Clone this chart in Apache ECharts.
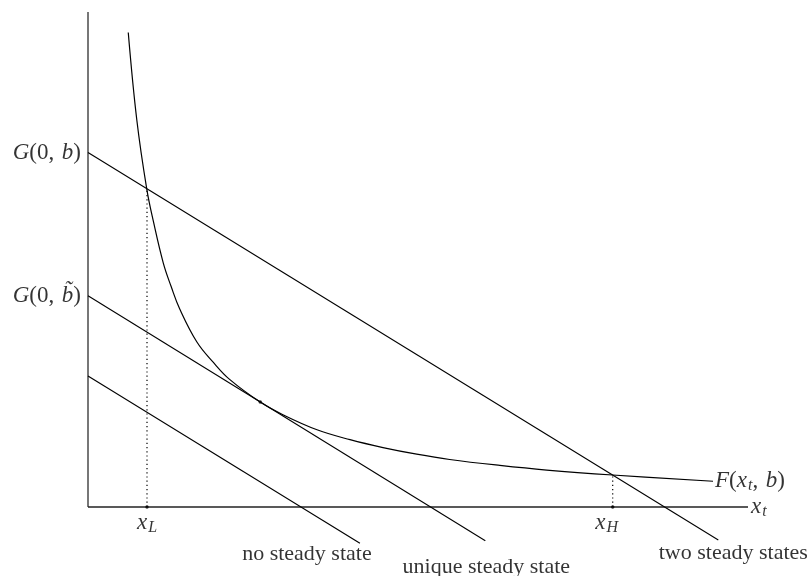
<!DOCTYPE html>
<html>
<head>
<meta charset="utf-8">
<script src="https://cdn.jsdelivr.net/npm/echarts@6/dist/echarts.min.js"></script>
<style>
  html, body { margin: 0; padding: 0; background: #fff; }
  #chart { width: 812px; height: 576px; }
</style>
</head>
<body>
<div id="chart"></div>
<script>
// Curve F(x_t, b): sampled points (x_t, F)
const curveF = [
  [6.1, 71.9], [7.4, 58.6], [8.9, 48.2], [9.9, 43.3], [11.4, 37.0],
  [12.6, 33.4], [13.9, 30.0], [16.5, 25.0], [19.0, 21.9], [21.5, 19.3],
  [26.1, 15.9], [29.6, 13.95], [34.7, 11.7], [39.7, 10.2], [44.7, 9.0],
  [49.8, 8.0], [54.8, 7.2], [62.4, 6.3], [69.5, 5.6], [79.5, 4.85], [94.7, 3.9]
];

// Straight lines G(x_t, .) : start on the vertical axis, end below the horizontal axis
const lineTwoSteady = [[0, 53.7], [95.5, -5.0]];      // G(0, b)
const lineUniqueSteady = [[0, 32.0], [60.2, -5.1]];   // G(0, b~)
const lineNoSteady = [[0, 19.85], [41.2, -5.5]];

// Steady states and tangency
const xL = 8.94, yAtXL = 48.1;
const xH = 79.5, yAtXH = 4.85;
const tangentPoint = [26.1, 15.9];

// Axis extents
const xAxisEnd = 100;
const yAxisEnd = 75;

// Texts
const caseLabels = ['no steady state', 'unique steady state', 'two steady states'];

const FONT = 'Liberation Serif';
const rich = {
  r: { fontFamily: FONT, fontSize: 23, color: '#000' },
  i: { fontFamily: FONT, fontSize: 23, fontStyle: 'italic', color: '#000' },
  s: { fontFamily: FONT, fontSize: 16, fontStyle: 'italic', color: '#000', padding: [10, 0, 0, 1] }
};

function lineSeries(data, style) {
  return {
    type: 'line', data: data, symbol: 'none', silent: true, clip: false,
    lineStyle: Object.assign({ color: '#000', width: 1 }, style || {}), z: 3
  };
}

function textSeries(point, label) {
  return {
    type: 'scatter', data: [point], symbolSize: 0, silent: true, clip: false,
    label: Object.assign({ show: true, rich: rich, color: '#000', fontFamily: FONT, fontSize: 22 }, label), z: 5
  };
}

const chart = echarts.init(document.getElementById('chart'), null, { renderer: 'canvas' });

chart.setOption({
  animation: false,
  backgroundColor: '#fff',
  grid: { left: 88, top: 12, width: 660, height: 561 },
  xAxis: { type: 'value', min: 0, max: 100, show: false },
  yAxis: { type: 'value', min: -10, max: 75, show: false },
  series: [
    // axes
    lineSeries([[0, 0], [0, yAxisEnd]], { color: '#555', width: 1.6 }),
    lineSeries([[0, 0], [xAxisEnd, 0]], { color: '#222', width: 1.3 }),
    // dotted guides at the steady states
    lineSeries([[xL, 0], [xL, yAtXL]], { type: [1.2, 3], width: 1.2 }),
    lineSeries([[xH, 0], [xH, yAtXH]], { type: [1.2, 3], width: 1.2 }),
    // G lines
    lineSeries(lineTwoSteady, { width: 1.1 }),
    lineSeries(lineUniqueSteady, { width: 1.1 }),
    lineSeries(lineNoSteady, { width: 1.1 }),
    // F curve
    Object.assign(lineSeries(curveF, { width: 1.2 }), { smooth: 0.4 }),
    // marked points
    {
      type: 'scatter', silent: true, symbolSize: 3.5, itemStyle: { color: '#000' }, z: 6,
      data: [[xL, 0], [xH, 0], tangentPoint]
    },
    // axis and curve labels
    textSeries(lineTwoSteady[0], { position: 'left', distance: 7, formatter: '{i|G}{r|(0,\u2004}{i|b}{r|)}' }),
    textSeries(lineUniqueSteady[0], { position: 'left', distance: 7, formatter: '{i|G}{r|(0,\u2004}{i|b\u0303}{r|)}' }),
    textSeries([xL, 0], { position: 'bottom', distance: 3, formatter: '{i|x}{s|L}' }),
    textSeries([xH, 0], { position: 'bottom', distance: 3, offset: [-6, 0], formatter: '{i|x}{s|H}' }),
    textSeries([xAxisEnd, 0], { position: 'right', distance: 3, formatter: '{i|x}{s|t}' }),
    textSeries(curveF[curveF.length - 1], { position: 'right', distance: 2, formatter: '{i|F}{r|(}{i|x}{s|t}{r|,\u2004}{i|b}{r|)}' }),
    // case labels under the line ends
    textSeries(lineNoSteady[1], { position: 'inside', offset: [-53, 11], formatter: caseLabels[0] }),
    textSeries(lineUniqueSteady[1], { position: 'inside', offset: [1, 27], formatter: caseLabels[1] }),
    textSeries(lineTwoSteady[1], { position: 'inside', offset: [15, 13], formatter: caseLabels[2] })
  ]
});
</script>
</body>
</html>
